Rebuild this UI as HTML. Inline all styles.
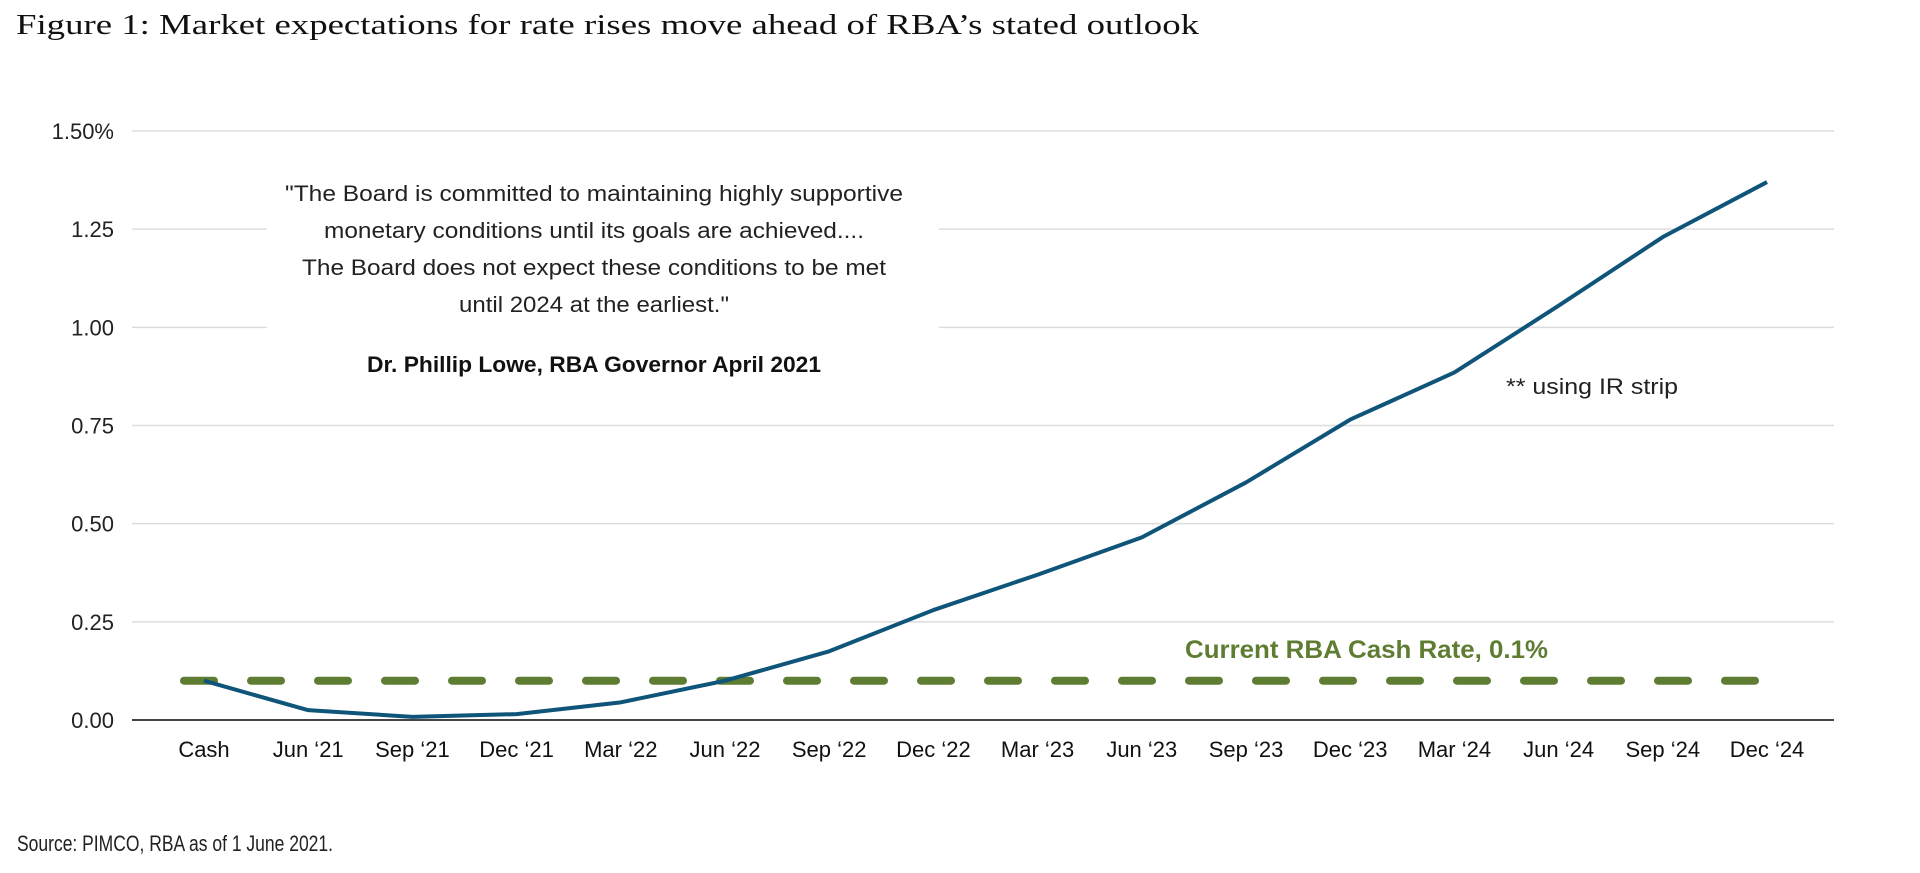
<!DOCTYPE html>
<html><head><meta charset="utf-8"><style>
html,body{margin:0;padding:0;background:#fff;width:1920px;height:873px;overflow:hidden}
svg{display:block}
</style></head><body>
<svg id="chart" width="1920" height="873" viewBox="0 0 1920 873" xmlns="http://www.w3.org/2000/svg">
<text x="16" y="34" font-family="Liberation Serif, serif" font-size="29" fill="#111" textLength="1183" lengthAdjust="spacingAndGlyphs">Figure 1: Market expectations for rate rises move ahead of RBA’s stated outlook</text>
<g id="grid"></g>
<g id="yticks"></g>
<g id="xticks"></g>
<rect x="267" y="160" width="672" height="225" fill="#fff"/>
<g font-family="Liberation Sans, sans-serif" font-size="22" fill="#222" text-anchor="middle">
<text x="594" y="201" textLength="618" lengthAdjust="spacingAndGlyphs">"The Board is committed to maintaining highly supportive</text>
<text x="594" y="238" textLength="540" lengthAdjust="spacingAndGlyphs">monetary conditions until its goals are achieved....</text>
<text x="594" y="275" textLength="584" lengthAdjust="spacingAndGlyphs">The Board does not expect these conditions to be met</text>
<text x="594" y="312" textLength="270" lengthAdjust="spacingAndGlyphs">until 2024 at the earliest."</text>
<text x="594" y="372" textLength="454" lengthAdjust="spacingAndGlyphs" font-weight="bold" fill="#111">Dr. Phillip Lowe, RBA Governor April 2021</text>
</g>
<text x="1506" y="394" font-family="Liberation Sans, sans-serif" font-size="22" fill="#222" textLength="172" lengthAdjust="spacingAndGlyphs">** using IR strip</text>
<text x="1185" y="658" font-family="Liberation Sans, sans-serif" font-size="25" font-weight="bold" fill="#5e7d32" textLength="363" lengthAdjust="spacingAndGlyphs">Current RBA Cash Rate, 0.1%</text>
<g id="series"></g>
<text x="17" y="851" font-family="Liberation Sans, sans-serif" font-size="22" fill="#222" textLength="316" lengthAdjust="spacingAndGlyphs">Source: PIMCO, RBA as of 1 June 2021.</text>
</svg>
<script>
const categories = ["Cash","Jun ‘21","Sep ‘21","Dec ‘21","Mar ‘22","Jun ‘22","Sep ‘22","Dec ‘22","Mar ‘23","Jun ‘23","Sep ‘23","Dec ‘23","Mar ‘24","Jun ‘24","Sep ‘24","Dec ‘24"];
const marketRates = [0.10,0.025,0.008,0.015,0.045,0.10,0.175,0.28,0.37,0.465,0.605,0.765,0.885,1.055,1.23,1.37];
const cashRate = 0.1;
const yTickValues = [0,0.25,0.5,0.75,1.0,1.25,1.5];
const yTickLabels = ["0.00","0.25","0.50","0.75","1.00","1.25","1.50%"];

const NS="http://www.w3.org/2000/svg";
const x0=204, dx=104.2, yBase=720, yTop=131, yMax=1.5;
const xScale=i=>x0+i*dx;
const yScale=v=>yBase-(v/yMax)*(yBase-yTop);
function mk(tag,attrs,parent){const e=document.createElementNS(NS,tag);for(const k in attrs)e.setAttribute(k,attrs[k]);parent.appendChild(e);return e;}
const grid=document.getElementById('grid'),yt=document.getElementById('yticks'),xt=document.getElementById('xticks'),ser=document.getElementById('series');
yTickValues.forEach((v,i)=>{
  const l=mk('line',{x1:132,x2:1834,y1:yScale(v),y2:yScale(v),stroke:v===0?'#444':'#ddd','stroke-width':v===0?2:1.5},grid);
  
  
  const t=mk('text',{x:114,y:yScale(v)+8,'text-anchor':'end','font-family':'Liberation Sans, sans-serif','font-size':22,fill:'#222'},yt);
  t.textContent=yTickLabels[i];
  
  
});
categories.forEach((c,i)=>{
  const t=mk('text',{x:xScale(i),y:757,'text-anchor':'middle','font-family':'Liberation Sans, sans-serif','font-size':22,fill:'#111'},xt);
  t.textContent=c;
  
  
});
const dash=mk('line',{x1:xScale(0)-20,x2:xScale(categories.length-1)-4,y1:yScale(cashRate),y2:yScale(cashRate),stroke:'#5e7d32','stroke-width':8,'stroke-dasharray':'30 37','stroke-linecap':'round'},ser);


const pts=marketRates.map((v,i)=>xScale(i)+','+yScale(v)).join(' ');
const pl=mk('polyline',{points:pts,fill:'none',stroke:'#0f5479','stroke-width':4,'stroke-linejoin':'round'},ser);


</script>
</body></html>
